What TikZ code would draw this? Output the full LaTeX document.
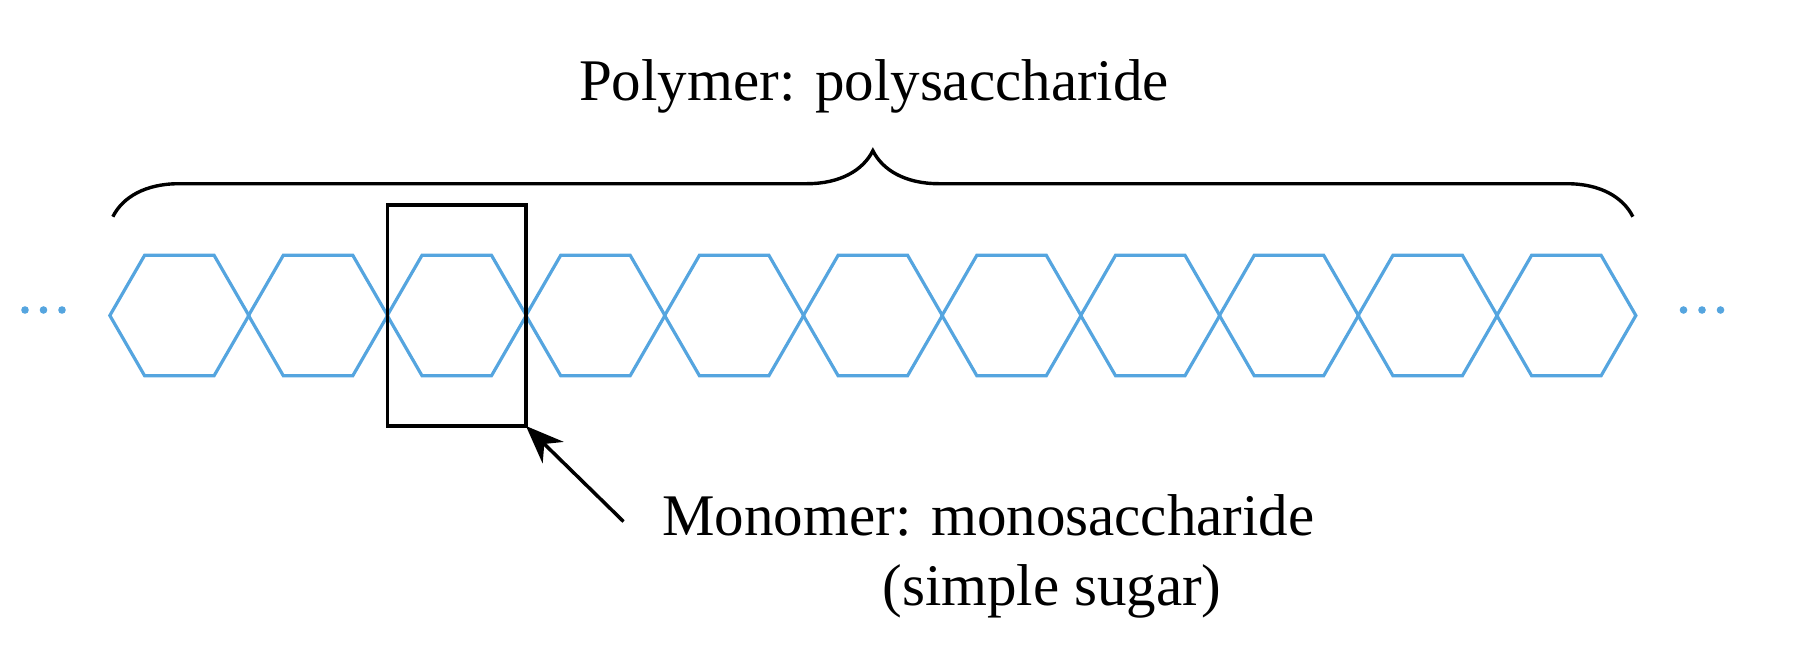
\documentclass[tikz,border=0pt]{standalone}
\usepackage{fontspec}
\setmainfont{Liberation Serif}
\usetikzlibrary{arrows.meta,positioning,shapes.geometric,decorations.pathreplacing}
\definecolor{sugarblue}{HTML}{55A5DF}
\tikzset{
  sugarhex/.style={
    regular polygon,
    regular polygon sides=6,
    draw=sugarblue,
    line width=1.6pt,
    minimum size=69.5pt,
    inner sep=0pt,
    outer sep=0pt
  },
  monobox/.style={
    draw=black,
    line width=1.75pt,
    minimum width=69.2pt,
    minimum height=110.5pt,
    inner sep=0pt,
    outer sep=0pt
  },
  caption/.style={
    inner sep=0pt,
    font=\fontsize{29.5pt}{35pt}\selectfont
  },
  arrow/.style={
    -{Stealth[length=19pt,width=15pt]},
    line width=1.75pt
  },
  polybrace/.style={
    decorate,
    decoration={brace, amplitude=33pt},
    line width=1.7pt
  },
  chaindot/.style={fill=sugarblue}
}

\begin{document}
\begin{tikzpicture}[x=0.5pt, y=-0.5pt]
\useasboundingbox (0,0) rectangle (1809,669);
\foreach \i in {1,...,11}
  \node[sugarhex] (h\i) at ({179.35+138.7*(\i-1)},315.5) {};
\foreach \x in {25,43.5,62,1683.5,1702,1720.5}
  \fill[chaindot] (\x,310) circle (1.9pt);
\node[monobox] (box) at (h3) {};
\draw[polybrace] ([xshift=1.5pt,yshift=49.4pt]h1.west) -- ([xshift=-1.5pt,yshift=49.4pt]h11.east);
\node[caption, anchor=base] (poly) at (874,100.7) {Polymer: polysaccharide};
\node[caption, anchor=base west] (mono) at (662,535) {Monomer: monosaccharide};
\node[caption, anchor=base west] (sugar) at (882,605) {(simple sugar)};
\coordinate (tail) at (623.5,521.5);
\draw[arrow] (tail) -- (box.south east);
\end{tikzpicture}
\end{document}
